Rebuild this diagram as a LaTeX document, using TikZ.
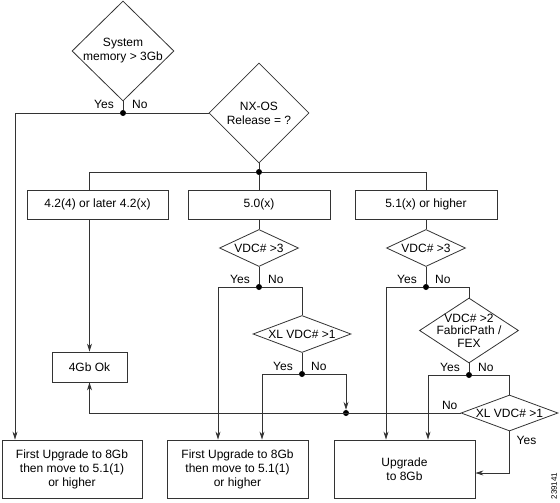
\documentclass[tikz,border=0pt]{standalone}
\usepackage{fontspec}
\setmainfont{Liberation Sans}
\usetikzlibrary{shapes.geometric,arrows.meta}

\begin{document}
\begin{tikzpicture}[x=1pt,y=-1pt,
	font=\fontsize{12}{14}\selectfont,
	box/.style 2 args={draw=Line, line width=0.8pt, inner sep=0pt,
		minimum width=#1, minimum height=#2, align=center},
	decision/.style 2 args={diamond, draw=Line, line width=0.8pt, inner sep=0pt,
		minimum width=#1, minimum height=#2},
	dtext/.style={align=center, inner sep=0pt},
	dot/.style={circle, fill=black, inner sep=0pt, minimum size=6pt},
	lbl/.style={inner sep=1pt},
	conn/.style={draw=Line, line width=0.8pt},
	arr/.style={conn, -{Stealth[length=8pt,width=5pt]}}]
\colorlet{Line}{black!80}
\useasboundingbox (0,0) rectangle (560,503);
%% Top decisions
\node[decision={102pt}{100pt}, label={[dtext]center:System\\memory > 3Gb}] (mem) at (123,51) {};
\node[decision={100pt}{100pt}, label={[dtext]center:NX-OS\\Release = ?}] (nxos) at (259,113) {};
\node[dot] (j1) at (123,113) {};
\node[dot] (j2) at (259,172) {};
%% Release boxes
\node[box={141pt}{29pt}] (rel42) at (97.5,204.5) {4.2(4) or later 4.2(x)};
\node[box={142pt}{29pt}] (rel50) at (259,204.5) {5.0(x)};
\node[box={142pt}{29pt}] (rel51) at (426,204.5) {5.1(x) or higher};
%% Branch 5.0(x)
\node[decision={79pt}{37pt}, label={[dtext]center:VDC\# >3}] (vdc50) at (259,248) {};
\node[dot] (j3) at (259,287) {};
\node[decision={98pt}{37pt}, label={[dtext]center:XL VDC\# >1}] (xl50) at (302,334) {};
\node[dot] (j4) at (302,374) {};
\node[dot] (j5) at (346,413) {};
%% Branch 5.1(x)
\node[decision={79pt}{37pt}, label={[dtext]center:VDC\# >3}] (vdc51) at (426,248) {};
\node[dot] (j6) at (426,287) {};
\node[decision={99pt}{65pt}, label={[dtext, font=\fontsize{12}{12.5}\selectfont]center:VDC\# >2\\FabricPath /\\FEX}] (fab) at (469,330.5) {};
\node[dot] (j7) at (469,375) {};
\node[decision={97pt}{36pt}, label={[dtext]center:XL VDC\# >1}] (xl51) at (509.5,413) {};
%% Results
\node[box={75pt}{30pt}] (ok4) at (89.5,367) {4Gb Ok};
\node[box={140pt}{58pt}] (first1) at (72,469) {First Upgrade to 8Gb\\then move to 5.1(1)\\or higher};
\node[box={141pt}{58pt}] (first2) at (237.5,469) {First Upgrade to 8Gb\\then move to 5.1(1)\\or higher};
\node[box={141pt}{58pt}] (upg) at (404.5,469) {Upgrade\\to 8Gb};
%% Yes / No
\foreach \j in {j1,j3,j4,j6,j7}
{
	\node[lbl, anchor=base east] (\j yes) at ([xshift=-8pt,yshift=4pt]\j) {Yes};
	\node[lbl, anchor=base west] (\j no) at ([xshift=8pt,yshift=4pt]\j) {No};
}
\node[lbl, anchor=base east] (xl51no) at ([xshift=-2pt,yshift=4pt]xl51.west) {No};
\node[lbl, anchor=base west] (xl51yes) at ([xshift=6pt,yshift=-13pt]xl51.south) {Yes};
%% Connectors
\draw[conn] (mem.south) -- (j1);
\draw[conn] (j1) -- (nxos.west);
\draw[arr] (j1) -| ([xshift=-57pt]first1.north);
\draw[conn] (nxos.south) -- (j2);
\draw[conn] (j2) -| (rel42.north -| ok4.north);
\draw[conn] (j2) -- (rel50.north);
\draw[conn] (j2) -| (rel51.north);
\draw[arr] (rel42.south -| ok4.north) -- (ok4.north);
%
\draw[conn] (rel50.south) -- (vdc50.north);
\draw[conn] (vdc50.south) -- (j3);
\draw[arr] (j3) -| ([xshift=-19.5pt]first2.north);
\draw[conn] (j3) -| (xl50.north);
\draw[conn] (xl50.south) -- (j4);
\draw[arr] (j4) -| ([xshift=24.5pt]first2.north);
\draw[arr] (j4) -| (j5);
\draw[arr] (xl51.west) -| (ok4.south);
%
\draw[conn] (rel51.south) -- (vdc51.north);
\draw[conn] (vdc51.south) -- (j6);
\draw[arr] (j6) -| ([xshift=-18.5pt]upg.north);
\draw[conn] (j6) -| (fab.north);
\draw[conn] (fab.south) -- (j7);
\draw[arr] (j7) -| ([xshift=23.5pt]upg.north);
\draw[conn] (j7) -| (xl51.north);
\draw[arr] (xl51.south) |- ([yshift=-4pt]upg.east);
%% Figure number
\node[font=\fontsize{8}{9}\selectfont, rotate=90, inner sep=0pt] (fignum) at (554,486) {239141};
\end{tikzpicture}
\end{document}
